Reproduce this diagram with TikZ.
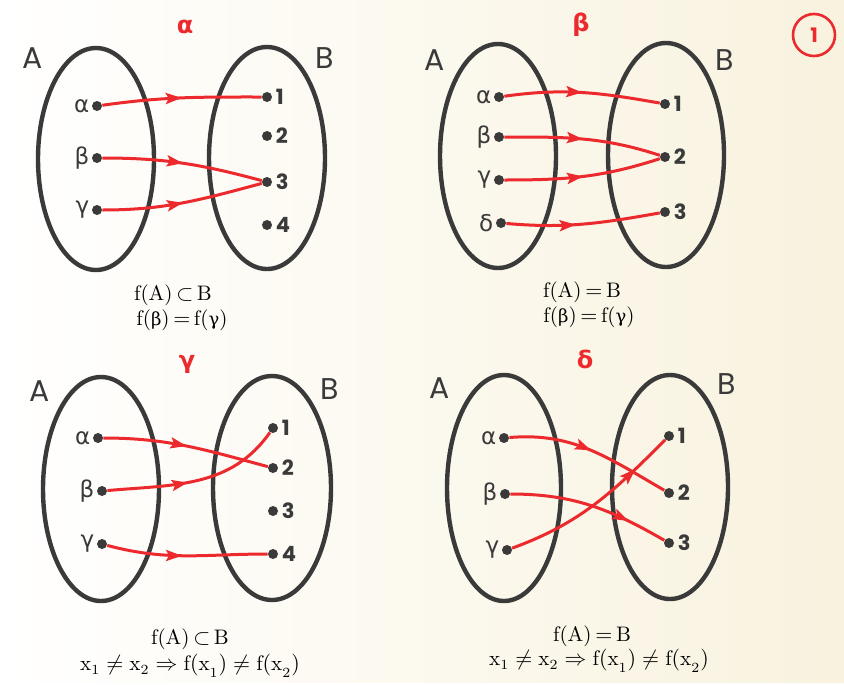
\documentclass[tikz,border=0pt]{standalone}
\usepackage{fontspec}
\usepackage{tikz}
\usetikzlibrary{arrows.meta,decorations.markings}
\newfontfamily\geo{Poppins}
\newfontfamily\grk{DejaVu Sans}
\newfontfamily\grkserif{DejaVu Serif}
\definecolor{fred}{HTML}{EC2A2E}
\definecolor{setgray}{HTML}{3A3A3A}
\definecolor{paper}{HTML}{F8F2DE}

\begin{document}
\begin{tikzpicture}[x=0.5pt,y=0.5pt]
    \tikzstyle{dot}=[circle,fill=setgray,inner sep=0pt,minimum size=5pt]
    \tikzstyle{set}=[draw=setgray,line width=2.2pt]
    \tikzstyle{el}=[font=\grk\fontsize{11.5}{11.5}\selectfont,text=setgray,inner sep=1pt]
    \tikzstyle{num}=[font=\geo\bfseries\fontsize{10.5}{10.5}\selectfont,text=setgray,inner sep=1.5pt]
    \tikzstyle{setname}=[font=\geo\fontsize{15}{15}\selectfont,text=setgray]
    \tikzstyle{ttl}=[font=\grk\bfseries\fontsize{12}{12}\selectfont,text=fred]
    \tikzstyle{captxt}=[font=\fontsize{10.5}{12}\selectfont]
    \tikzset{fl/.style={draw=fred,line width=1.5pt,postaction={decorate},
      decoration={markings,mark=at position #1 with {\arrow[fred]{Stealth[length=8pt,width=5.5pt,inset=1.5pt]}}}}}
    \shade[left color=white,middle color=white,right color=paper] (0,0) rectangle (844,-682);
    % alpha
    \node[ttl] (ta) at (185,-27) {α};
    \node[setname] (aA) at (33,-58) {A};
    \node[setname] (aB) at (325,-58) {B};
    \draw[set] (96,-159) ellipse [x radius=58,y radius=111];
    \draw[set] (267,-158) ellipse [x radius=58,y radius=111];
    \node[dot,label={[el]left:α}] (a-x1) at (97,-106) {};
    \node[dot,label={[el]left:β}] (a-x2) at (97,-158) {};
    \node[dot,label={[el]left:γ}] (a-x3) at (97,-210) {};
    \node[dot,label={[num]right:1}] (a-y1) at (267,-97) {};
    \node[dot,label={[num]right:2}] (a-y2) at (267,-136) {};
    \node[dot,label={[num]right:3}] (a-y3) at (267,-182) {};
    \node[dot,label={[num]right:4}] (a-y4) at (267,-225) {};
    \node[captxt] (a-c1) at (173,-295) {f(A)$\,\subset\,$B};
    \node[captxt] (a-c2) at (182,-320) {f({\grkserif\small β})$\,=\,$f({\grkserif\small γ})};
    % beta
    \node[ttl] (tb) at (581,-25) {β};
    \node[circle,draw=fred,line width=1.3pt,minimum size=21pt,inner sep=0pt,
      font=\geo\bfseries\fontsize{10}{10}\selectfont,text=fred] (one) at (814,-35) {1};
    \node[setname] (bA) at (435,-60) {A};
    \node[setname] (bB) at (725,-60) {B};
    \draw[set] (498,-156) ellipse [x radius=58,y radius=112];
    \draw[set] (666,-155) ellipse [x radius=58,y radius=112];
    \node[dot,label={[el]left:α}] (b-x1) at (499,-97) {};
    \node[dot,label={[el]left:β}] (b-x2) at (499,-137) {};
    \node[dot,label={[el]left:γ}] (b-x3) at (499,-180) {};
    \node[dot,label={[el]left:δ}] (b-x4) at (501,-223) {};
    \node[dot,label={[num]right:1}] (b-y1) at (665,-104) {};
    \node[dot,label={[num]right:2}] (b-y2) at (665,-157) {};
    \node[dot,label={[num]right:3}] (b-y3) at (665,-212) {};
    \node[captxt] (b-c1) at (582,-292) {f(A)$\,=\,$B};
    \node[captxt] (b-c2) at (589,-317) {f({\grkserif\small β})$\,=\,$f({\grkserif\small γ})};
    % gamma
    \node[ttl] (tc) at (187,-364) {γ};
    \node[setname] (cA) at (40,-391) {A};
    \node[setname] (cB) at (330,-389) {B};
    \draw[set] (101,-489) ellipse [x radius=58,y radius=112];
    \draw[set] (272,-488) ellipse [x radius=59,y radius=112];
    \node[dot,label={[el]left:α}] (c-x1) at (98,-438) {};
    \node[dot,label={[el]left:β}] (c-x2) at (102,-491) {};
    \node[dot,label={[el]left:γ}] (c-x3) at (102,-544) {};
    \node[dot,label={[num]right:1}] (c-y1) at (273,-428) {};
    \node[dot,label={[num]right:2}] (c-y2) at (273,-468) {};
    \node[dot,label={[num]right:3}] (c-y3) at (273,-511) {};
    \node[dot,label={[num]right:4}] (c-y4) at (273,-554) {};
    \node[captxt] (c-c1) at (190,-639) {f(A)$\,\subset\,$B};
    \node[captxt] (c-c2) at (190,-666) {$\mathrm{x}_1\neq\mathrm{x}_2\Rightarrow\mathrm{f(x}_1)\neq\mathrm{f(x}_2)$};
    % delta
    \node[ttl] (td) at (585,-359) {δ};
    \node[setname] (dA) at (440,-388) {A};
    \node[setname] (dB) at (727,-384) {B};
    \draw[set] (504,-488) ellipse [x radius=57,y radius=113];
    \draw[set] (670,-487) ellipse [x radius=58,y radius=112];
    \node[dot,label={[el]left:α}] (d-x1) at (504,-438) {};
    \node[dot,label={[el]left:β}] (d-x2) at (505,-494) {};
    \node[dot,label={[el]left:γ}] (d-x3) at (507,-550) {};
    \node[dot,label={[num]right:1}] (d-y1) at (669,-436) {};
    \node[dot,label={[num]right:2}] (d-y2) at (669,-493) {};
    \node[dot,label={[num]right:3}] (d-y3) at (669,-543) {};
    \node[captxt] (d-c1) at (592,-636) {f(A)$\,=\,$B};
    \node[captxt] (d-c2) at (599,-661) {$\mathrm{x}_1\neq\mathrm{x}_2\Rightarrow\mathrm{f(x}_1)\neq\mathrm{f(x}_2)$};
    % the maps
    \foreach \s/\t/\o/\i/\p in {a-x1/a-y1/8/180/0.5,a-x2/a-y3/0/165/0.5,a-x3/a-y3/0/195/0.5,
      b-x1/b-y1/8/170/0.5,b-x2/b-y2/0/162/0.5,b-x3/b-y2/0/198/0.5,b-x4/b-y3/-5/190/0.45,
      c-x1/c-y2/0/165/0.5,c-x2/c-y1/5/235/0.45,c-x3/c-y4/-15/180/0.47,
      d-x1/d-y2/5/150/0.5,d-x2/d-y3/0/150/0.75,d-x3/d-y1/20/225/0.78}
      \draw[fl=\p] (\s) to[out=\o,in=\i] (\t);
\end{tikzpicture}
\end{document}
